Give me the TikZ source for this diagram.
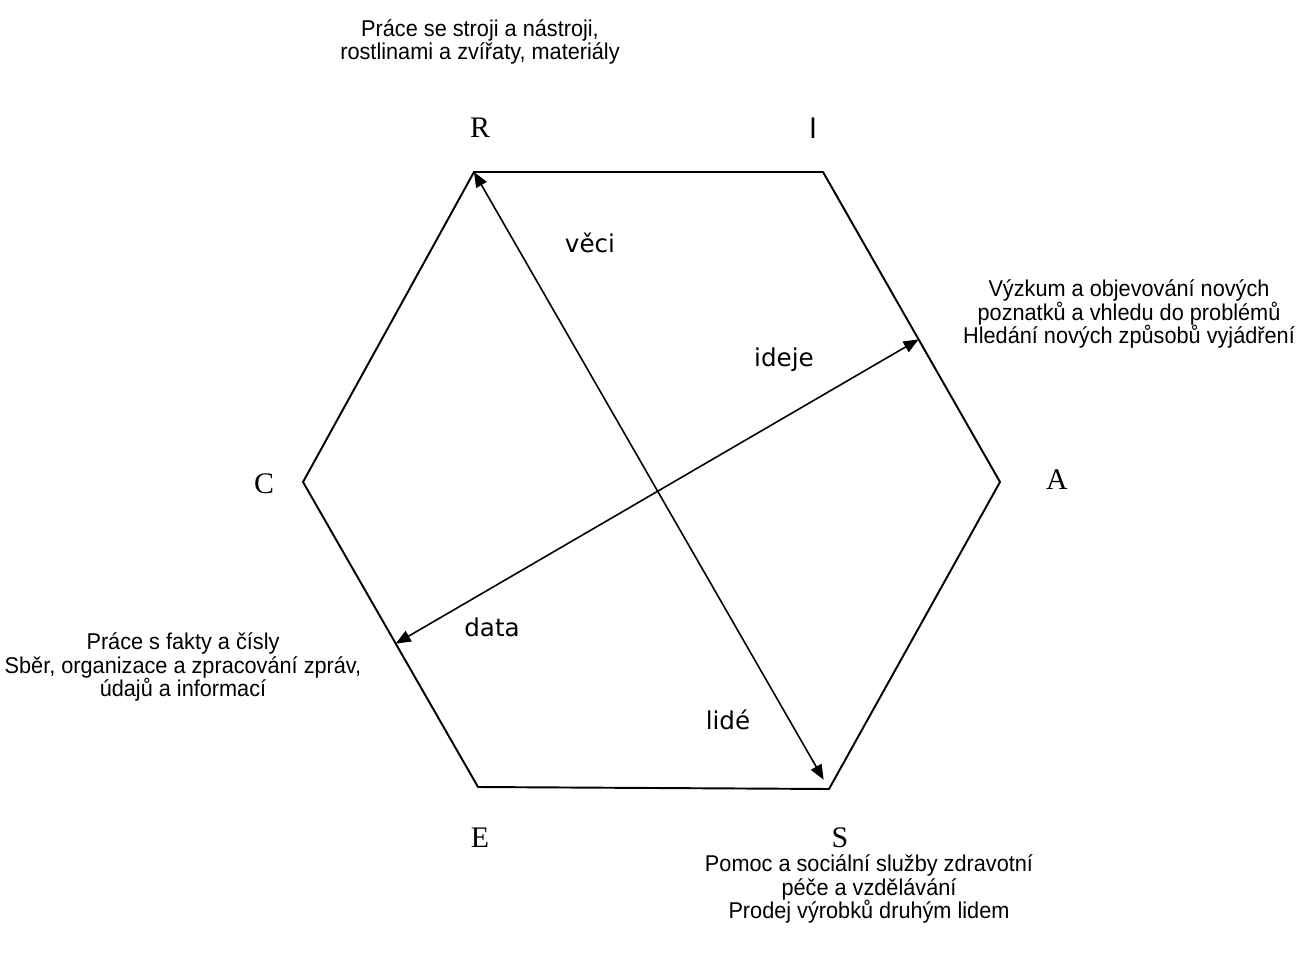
\documentclass[tikz,border=0pt]{standalone}
\usepackage{fontspec}
\setmainfont{Liberation Serif}
\newfontfamily\descfont[FakeStretch=0.95]{Liberation Sans}
\newfontfamily\labfont{DejaVu Sans}
\usetikzlibrary{arrows.meta,calc}
\tikzset{
  edge/.style={draw=black, line width=1.1pt, line join=miter},
  link/.style={draw=black, line width=0.9pt, {Triangle[length=0.3cm, width=0.24cm]}-{Triangle[length=0.3cm, width=0.24cm]}},
  corner/.style={font=\fontsize{17}{20}\selectfont, inner sep=0pt},
  flow/.style={font=\labfont\fontsize{14}{17}\selectfont, inner sep=0pt},
  desc/.style={font=\descfont\fontsize{13}{13.6}\selectfont, align=center, inner sep=0pt}
}

\begin{document}
\begin{tikzpicture}[x=0.02cm, y=-0.02cm]
  \useasboundingbox (0,0) rectangle (1311,962);
  % hexagon corners
  \coordinate (R) at (474,172);
  \coordinate (I) at (823,172);
  \coordinate (A) at (1000,482);
  \coordinate (S) at (829,789);
  \coordinate (E) at (478,787);
  \coordinate (C) at (303,482);
  \draw[edge] (R) -- (I) -- (A) -- (S) -- (E) -- (C) -- cycle;

  % arrow ends
  \coordinate (rs) at ($(R)!0.985!(S)$);
  \coordinate (ce) at ($(C)!0.53!(E)$);
  \coordinate (ia) at ($(I)!0.54!(A)$);
  \draw[link] (R) -- (rs);
  \draw[link] (ce) -- (ia);

  % corner letters
  \node[corner] (lR) at (480,128) {R};
  \node[corner, font=\descfont\fontsize{17}{20}\selectfont] (lI) at (813,128) {I};
  \node[corner] (lA) at (1057,480) {A};
  \node[corner] (lS) at (840,838) {S};
  \node[corner] (lE) at (480,838) {E};
  \node[corner] (lC) at (264,484) {C};

  % arrow labels
  \node[flow] (veci) at (590,243) {věci};
  \node[flow] (ideje) at (784,360) {ideje};
  \node[flow] (data) at (492,627) {data};
  \node[flow] (lide) at (728,720) {lidé};

  % descriptions
  \node[desc] (dR) at (480,42) {Práce se stroji a nástroji,\\rostlinami a zvířaty, materiály};
  \node[desc] (dA) at (1129,314) {Výzkum a objevování nových\\poznatků a vhledu do problémů\\Hledání nových způsobů vyjádření};
  \node[desc] (dC) at (183,667) {Práce s fakty a čísly\\Sběr, organizace a zpracování zpráv,\\údajů a informací};
  \node[desc] (dS) at (869,889) {Pomoc a sociální služby zdravotní\\péče a vzdělávání\\Prodej výrobků druhým lidem};
\end{tikzpicture}
\end{document}
